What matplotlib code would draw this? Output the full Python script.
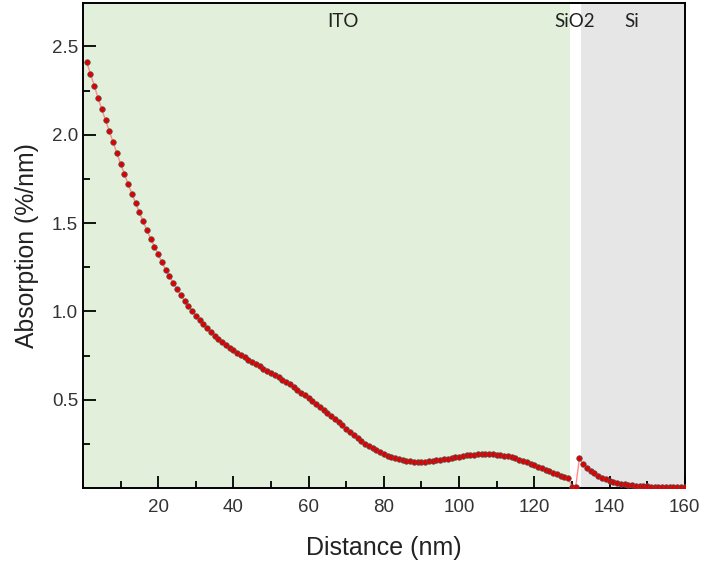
import matplotlib
matplotlib.use('Agg')
import matplotlib.pyplot as plt
import numpy as np

# distance (nm) and absorption (%/nm)
distance = np.arange(1, 161)
absorption = [
    2.412, 2.344, 2.276, 2.210, 2.144, 2.082, 2.020, 1.958, 1.897, 1.836,   # 1-10
    1.780, 1.721, 1.667, 1.614, 1.561, 1.510, 1.459, 1.412, 1.367, 1.323,   # 11-20
    1.278, 1.236, 1.199, 1.163, 1.125, 1.093, 1.061, 1.031, 1.002, 0.976,   # 21-30
    0.951, 0.927, 0.904, 0.883, 0.862, 0.844, 0.827, 0.810, 0.794, 0.780,   # 31-40
    0.764, 0.751, 0.740, 0.727, 0.712, 0.700, 0.689, 0.676, 0.664, 0.651,   # 41-50
    0.640, 0.627, 0.613, 0.600, 0.587, 0.572, 0.557, 0.540, 0.525, 0.508,   # 51-60
    0.491, 0.474, 0.457, 0.440, 0.423, 0.406, 0.389, 0.372, 0.355, 0.336,   # 61-70
    0.319, 0.302, 0.281, 0.266, 0.251, 0.238, 0.225, 0.213, 0.202, 0.193,   # 71-80
    0.183, 0.176, 0.168, 0.163, 0.157, 0.153, 0.151, 0.149, 0.149, 0.149,   # 81-90
    0.149, 0.151, 0.153, 0.157, 0.159, 0.163, 0.166, 0.168, 0.173, 0.177,   # 91-100
    0.181, 0.185, 0.187, 0.189, 0.191, 0.191, 0.193, 0.193, 0.191, 0.189,   # 101-110
    0.187, 0.183, 0.179, 0.174, 0.168, 0.160, 0.153, 0.146, 0.138, 0.130,   # 111-120
    0.121, 0.113, 0.104, 0.096, 0.087, 0.079, 0.070, 0.064, 0.055, 0.007,   # 121-130
    0.004, 0.168, 0.134, 0.115, 0.098, 0.083, 0.070, 0.058, 0.049, 0.041,   # 131-140
    0.034, 0.028, 0.024, 0.021, 0.017, 0.015, 0.013, 0.011, 0.010, 0.009,   # 141-150
    0.008, 0.007, 0.006, 0.005, 0.005, 0.004, 0.004, 0.003, 0.003, 0.003,   # 151-160
]

# layer boundaries (nm) and labels
layer_names = ['ITO', 'SiO2', 'Si']
layer_edges = [0, 129.5, 132.3, 160]
layer_colors = ['#e2efda', '#ffffff', '#e7e6e6']
label_x = [69, 130.7, 145.9]

plt.rcParams['font.family'] = ['Liberation Sans', 'DejaVu Sans']

fig = plt.figure(figsize=(7.03, 5.62), dpi=100)
ax = fig.add_axes([0.118, 0.1317, 0.856, 0.863])

for i in range(len(layer_names)):
    ax.axvspan(layer_edges[i], layer_edges[i + 1], color=layer_colors[i], lw=0, zorder=0)
    ax.text(label_x[i], 2.64, layer_names[i], ha='center', va='center',
            fontsize=13.5, family=['Lato', 'DejaVu Sans'], color='#222222')

ax.plot(distance, absorption, color='#ff8a8a', lw=1.0, zorder=2)
ax.plot(distance, absorption, 'o', color='#e00000', markeredgecolor='#555555',
        markeredgewidth=0.5, markersize=4.0, zorder=3)

ax.set_xlim(0, 160)
ax.set_ylim(0, 2.746)
ax.set_xticks(np.arange(20, 161, 20))
ax.set_xticks(np.arange(10, 160, 20), minor=True)
ax.set_yticks([0.5, 1.0, 1.5, 2.0, 2.5])
ax.set_yticks([0.25, 0.75, 1.25, 1.75, 2.25], minor=True)

ax.tick_params(which='both', direction='in', labelsize=13.5, width=1.3,
               labelcolor='#333333')
ax.tick_params(which='major', length=9)
ax.tick_params(which='minor', length=5)
ax.tick_params(axis='x', pad=8)
for s in ax.spines.values():
    s.set_linewidth(1.4)

ax.set_xlabel('Distance (nm)', fontsize=18, labelpad=14, color='#222222')
ax.set_ylabel('Absorption (%/nm)', fontsize=17.8, labelpad=9, color='#222222')

fig.savefig('out.png', dpi=100)
